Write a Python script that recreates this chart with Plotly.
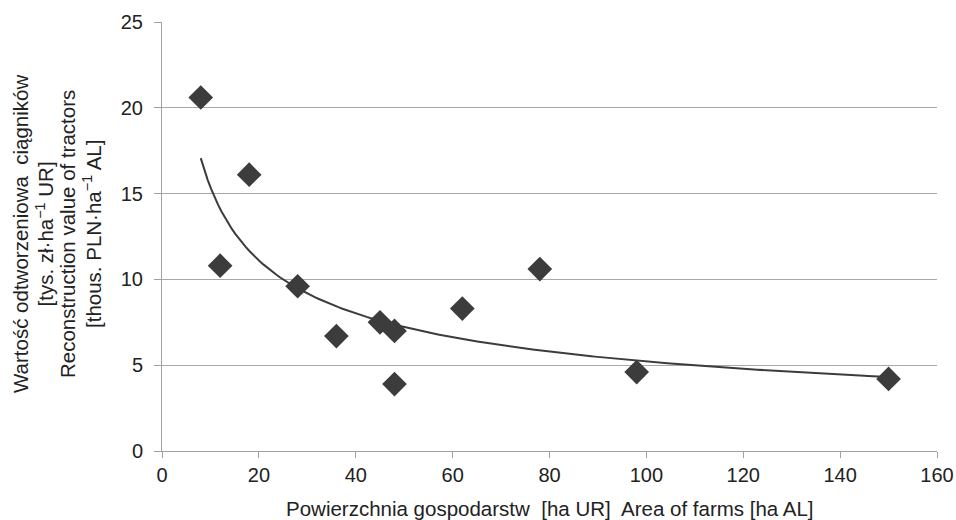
import numpy as np
import plotly.graph_objects as go

# Data
farm_area = [8, 12, 18, 28, 36, 45, 48, 48, 62, 78, 98, 150]
tractor_value = [20.6, 10.8, 16.1, 9.6, 6.7, 7.5, 7.0, 3.9, 8.3, 10.6, 4.6, 4.2]

x_ticks = [0, 20, 40, 60, 80, 100, 120, 140, 160]
y_ticks = [0, 5, 10, 15, 20, 25]

x_title = "Powierzchnia gospodarstw  [ha UR]  Area of farms [ha AL]"
y_title_lines = [
    "Wartość odtworzeniowa  ciągników",
    "[tys. zł·ha<sup>−1</sup> UR]",
    "Reconstruction value of tractors",
    "[thous. PLN·ha<sup>−1</sup> AL]",
]

# Power trend line (least squares in log-log space, like a spreadsheet power trendline)
lx = np.log(np.array(farm_area, dtype=float))
ly = np.log(np.array(tractor_value, dtype=float))
b, ln_a = np.polyfit(lx, ly, 1)
trend_x = np.linspace(min(farm_area), max(farm_area), 200)
trend_y = np.exp(ln_a) * trend_x ** b

fig = go.Figure()
fig.add_trace(go.Scatter(x=trend_x, y=trend_y, mode="lines",
                         line=dict(color="#3c3c3c", width=2), hoverinfo="skip",
                         showlegend=False))
fig.add_trace(go.Scatter(x=farm_area, y=tractor_value, mode="markers",
                         marker=dict(symbol="diamond", size=19, color="#3c3c3c"),
                         showlegend=False))

font_family = "Liberation Sans, Arial, sans-serif"
title_font = dict(family=font_family, size=20.5, color="#222222")

annotations = [
    dict(text=x_title, xref="paper", yref="paper", x=0.5, y=0, yshift=-57,
         xanchor="center", yanchor="middle", showarrow=False, font=title_font)
]
line_shifts = [-141.5, -118, -94.5, -70.5]
for line, shift in zip(y_title_lines, line_shifts):
    annotations.append(dict(text=line, xref="paper", yref="paper", x=0, xshift=shift,
                            y=0.5, yshift=2, xanchor="center", yanchor="middle",
                            textangle=-90, showarrow=False, font=title_font))

fig.update_layout(
    width=956, height=520,
    margin=dict(l=162, r=19, t=22, b=69),
    paper_bgcolor="white", plot_bgcolor="white",
    font=dict(family=font_family, size=20, color="#222222"),
    xaxis=dict(range=[0, 160], tickvals=x_ticks, showgrid=False, zeroline=False,
               showline=True, linecolor="#a0a0a0", linewidth=1, automargin=False,
               ticks="outside", ticklen=6, tickcolor="#a0a0a0",
               tickfont=dict(size=20, color="#222222")),
    yaxis=dict(range=[0, 25], tickvals=y_ticks, showgrid=True, gridcolor="#a8a8a8",
               gridwidth=1, zeroline=False, showline=True, linecolor="#a0a0a0",
               linewidth=1, ticks="outside", ticklen=7, tickcolor="#a0a0a0",
               ticklabelstandoff=7,
               automargin=False, tickfont=dict(size=20, color="#222222")),
    annotations=annotations,
)

fig.write_html("out.html", config={"displayModeBar": False},
               post_script="document.body.style.margin='0';")
